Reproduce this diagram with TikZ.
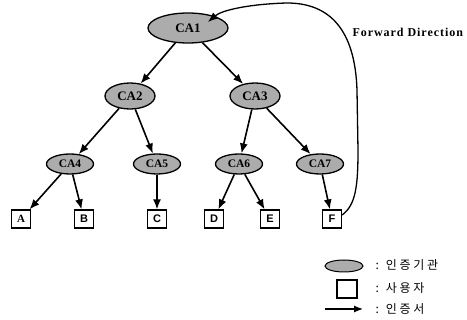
\documentclass[tikz,border=0pt]{standalone}
\usepackage{fontspec}
\setmainfont{Liberation Serif}
\newfontfamily\krfont[LetterSpace=22]{Noto Sans CJK KR}
\newfontfamily\fwdfont[LetterSpace=8]{Liberation Serif}
\newfontfamily\boxsans{Liberation Sans}
\usetikzlibrary{shapes.geometric,arrows.meta,calc}
\begin{document}
\begin{tikzpicture}[x=1pt,y=-1pt,
  ca/.style={ellipse,draw=black,line width=1.3pt,fill=gray!65,inner sep=0pt,
    font=\fontsize{13}{13}\selectfont\bfseries},
  cas/.style={ca,minimum width=47pt,minimum height=20pt,font=\fontsize{11.5}{11.5}\selectfont\bfseries},
  user/.style={rectangle,draw=black,line width=1.2pt,fill=white,inner sep=0pt,
    minimum width=19pt,minimum height=18pt,font=\fontsize{11}{11}\boxsans\bfseries},
  cert/.style={line width=1.6pt,-{Latex[length=10pt,width=8pt]}},
  legtext/.style={anchor=west,font=\fontsize{12}{12}\krfont}]
\useasboundingbox (0,0) rectangle (467,320);
\node[ca,minimum width=80pt,minimum height=30pt] (CA1) at (188,28) {CA1};
\node[ca,minimum width=50pt,minimum height=26pt] (CA2) at (130,96) {CA2};
\node[ca,minimum width=50pt,minimum height=26pt] (CA3) at (255,96) {CA3};
\node[cas] (CA4) at (70,164) {CA4};
\node[cas] (CA5) at (157,164) {CA5};
\node[cas] (CA6) at (239,164) {CA6};
\node[cas] (CA7) at (320,164) {CA7};
\node[user,font=\fontsize{11}{11}\selectfont\bfseries] (A) at (21,219) {A};
\node[user] (B) at (84,219) {B};
\node[user] (C) at (157,219) {C};
\node[user] (D) at (214,219) {D};
\node[user] (E) at (270,219) {E};
\node[user] (F) at (332,219) {F};
\draw[cert] (CA1) -- (CA2);
\draw[cert] (CA1) -- (CA3);
\draw[cert] (CA2) -- (CA4);
\draw[cert] (CA2) -- (CA5);
\draw[cert] (CA3) -- (CA6);
\draw[cert] (CA3) -- (CA7);
\draw[cert] (CA4) -- (A);
\draw[cert] (CA4) -- (B);
\draw[cert] (CA5) -- (C);
\draw[cert] (CA6) -- (D);
\draw[cert] (CA6) -- (E);
\draw[cert] (CA7) -- (F);
\draw[cert,line width=1.3pt] ([yshift=4pt]F.east) .. controls (356,205) and (358,185) .. (358,150)
  -- (357,90) .. controls (355,30) and (330,3) .. (287,3)
  .. controls (250,4) and (222,10) .. ($(CA1.center)+(20,-6)$);
\node[anchor=west,font=\fontsize{12}{12}\fwdfont\bfseries] (fwd) at (349,32) {Forward Direction};
% legend
\node[ca,minimum width=38pt,minimum height=12pt,line width=1pt] (legca) at (344,266) {};
\node[user,minimum width=20pt] (legbox) at (347,289) {};
\coordinate (la) at (325,309);
\coordinate (lb) at (363,309);
\draw[cert,line width=1.2pt,-{Latex[length=9pt,width=7pt]}] (la) -- (lb);
\node[legtext] (t1) at (372,265) {: 인증기관};
\node[legtext] (t2) at (372,288) {: 사용자};
\node[legtext] (t3) at (372,309) {: 인증서};
\end{tikzpicture}
\end{document}
